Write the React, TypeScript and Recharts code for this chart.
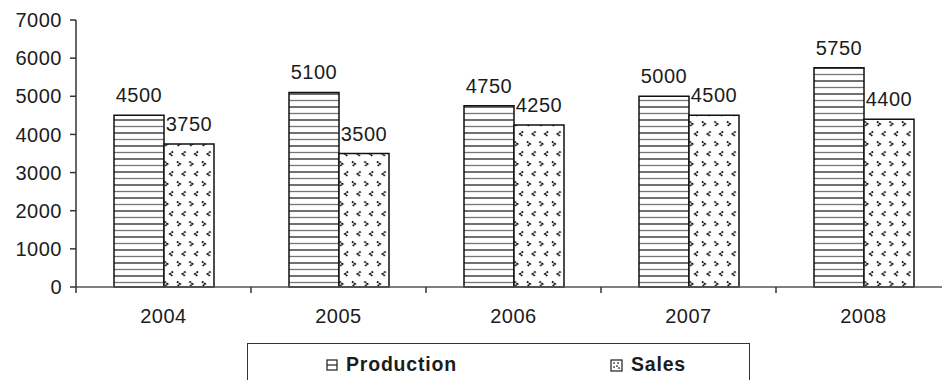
import { BarChart, Bar, XAxis, YAxis, LabelList, Legend } from "recharts";

const years = ["2004", "2005", "2006", "2007", "2008"];
const production = [4500, 5100, 4750, 5000, 5750];
const sales = [3750, 3500, 4250, 4500, 4400];
const yTicks = [0, 1000, 2000, 3000, 4000, 5000, 6000, 7000];

const data = years.map((year, i) => ({
  year,
  production: production[i],
  sales: sales[i],
}));

const FONT = "'Liberation Sans', Arial, sans-serif";
const INK = "#1c1c1c";

// category tick: mark at the left edge of each band, label in the middle
// eslint-disable-next-line @typescript-eslint/no-explicit-any
function YearTick({ x, y, payload }: any) {
  const half = payload?.offset ?? 87.5;
  return (
    <g>
      <line x1={x - half} x2={x - half} y1={y - 8} y2={y - 2} stroke="#333" strokeWidth={1.5} />
      <text
        x={x}
        y={y + 14}
        dy="0.71em"
        textAnchor="middle"
        fill={INK}
        fontSize={20}
        letterSpacing={0.5}
        fontFamily={FONT}
      >
        {payload.value}
      </text>
    </g>
  );
}

function LegendBox() {
  const dots = [
    [366, 19],
    [370, 19],
    [366, 23],
    [369, 22],
    [371, 24],
  ];
  return (
    <div
      style={{
        width: "100%",
        height: "100%",
        border: "1.5px solid #333",
        boxSizing: "border-box",
        background: "#fff",
      }}
    >
      <svg width={500} height={50} style={{ display: "block" }}>
        <rect x={79} y={16} width={10} height={10} fill="#fff" stroke={INK} strokeWidth={1.2} />
        <line x1={79} x2={89} y1={21} y2={21} stroke={INK} strokeWidth={1.2} />
        <text x={98} y={27} fontSize={19.5} fontWeight="bold" letterSpacing={0.8} fill={INK} fontFamily={FONT}>
          Production
        </text>
        <rect x={363} y={16} width={11} height={11} fill="#fff" stroke={INK} strokeWidth={1.2} />
        {dots.map(([cx, cy], i) => (
          <rect key={i} x={cx - 0.7} y={cy - 0.7} width={1.5} height={1.5} fill={INK} />
        ))}
        <text x={383} y={27} fontSize={19.5} fontWeight="bold" letterSpacing={0.8} fill={INK} fontFamily={FONT}>
          Sales
        </text>
      </svg>
    </div>
  );
}

export default function App() {
  return (
    <div
      style={{
        position: "fixed",
        left: 0,
        top: 0,
        width: 942,
        height: 380,
        overflow: "hidden",
        background: "#fff",
      }}
    >
      <BarChart
        width={1000}
        height={420}
        data={data}
        margin={{ top: 20, right: 49, left: 0, bottom: 103 }}
        barGap={0}
        barSize={50}
      >
        <defs>
          <pattern id="hlines" patternUnits="userSpaceOnUse" width={8} height={13}>
            <rect width={8} height={13} fill="#fff" />
            <line x1={0} x2={8} y1={3} y2={3} stroke="#222" strokeWidth={1.3} />
            <line x1={0} x2={8} y1={9.5} y2={9.5} stroke="#777" strokeWidth={1.3} />
          </pattern>
          <pattern id="dots" patternUnits="userSpaceOnUse" width={12.5} height={20}>
            <rect width={12.5} height={20} fill="#fff" />
            <path d="M2,1.5 L5,4 L2,6.5" fill="none" stroke="#000" strokeWidth={1.8} strokeDasharray="1.7 0.9" />
            <path d="M10.5,11.5 L7.5,14 L10.5,16.5" fill="none" stroke="#000" strokeWidth={1.8} strokeDasharray="1.7 0.9" />
          </pattern>
        </defs>
        <XAxis
          dataKey="year"
          height={30}
          tickLine={false}
          axisLine={{ stroke: "#555", strokeWidth: 1.5 }}
          tick={<YearTick />}
          interval={0}
        />
        <YAxis
          domain={[0, 7000]}
          ticks={yTicks}
          width={76}
          tickSize={6}
          tickMargin={8}
          axisLine={{ stroke: "#333", strokeWidth: 1.5 }}
          tickLine={{ stroke: "#333", strokeWidth: 1.5 }}
          tick={{ fill: INK, fontSize: 20, fontFamily: FONT, letterSpacing: 0.5 }}
        />
        <Legend
          layout="horizontal"
          verticalAlign="middle"
          align="center"
          content={<LegendBox />}
          wrapperStyle={{ left: 247, top: 343, width: 503, height: 60 }}
        />
        <Bar dataKey="production" fill="url(#hlines)" stroke="#111" strokeWidth={1.5} isAnimationActive={false}>
          <LabelList dataKey="production" position="top" offset={13} fill={INK} fontSize={20} fontFamily={FONT} letterSpacing={0.5} />
        </Bar>
        <Bar dataKey="sales" fill="url(#dots)" stroke="#111" strokeWidth={1.5} isAnimationActive={false}>
          <LabelList dataKey="sales" position="top" offset={13} fill={INK} fontSize={20} fontFamily={FONT} letterSpacing={0.5} />
        </Bar>
      </BarChart>
    </div>
  );
}
